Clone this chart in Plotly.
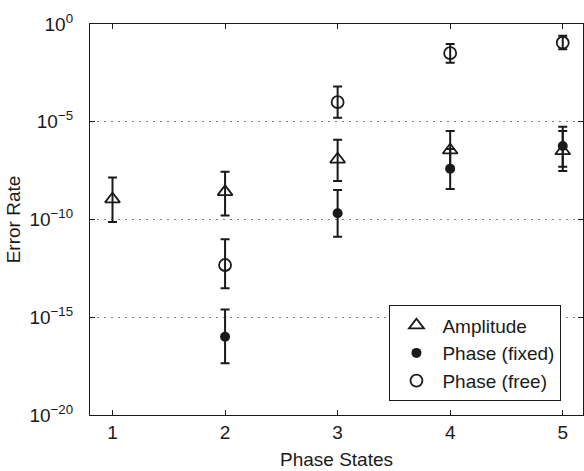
import plotly.graph_objects as go

# Data
phase_states = [1, 2, 3, 4, 5]

amp_x = [1, 2, 3, 4, 5]
amp_val = [1.1e-9, 2.6e-9, 1.2e-7, 3.5e-7, 3.2e-7]
amp_hi = [1.4e-8, 2.8e-8, 1.2e-6, 3.4e-6, 3.4e-6]
amp_lo = [7.4e-11, 1.6e-10, 9.3e-9, 3.5e-8, 3.0e-8]

fix_x = [2, 3, 4, 5]
fix_val = [1.0e-16, 2.1e-10, 4.0e-8, 5.8e-7]
fix_hi = [2.5e-15, 3.2e-9, 4.0e-7, 5.6e-6]
fix_lo = [4.4e-18, 1.3e-11, 3.6e-9, 5.0e-8]

free_x = [2, 3, 4, 5]
free_val = [4.7e-13, 1.0e-4, 3.2e-2, 1.1e-1]
free_hi = [9.8e-12, 6.3e-4, 9.5e-2, 2.5e-1]
free_lo = [3.0e-14, 1.6e-5, 1.05e-2, 5.1e-2]

ytick_vals = [1e0, 1e-5, 1e-10, 1e-15, 1e-20]
ytick_text = ["10<sup>0</sup>", "10<sup>−5</sup>", "10<sup>−10</sup>",
              "10<sup>−15</sup>", "10<sup>−20</sup>"]

INK = "#1a1a1a"
FONT = "Liberation Sans, Arial, Helvetica, sans-serif"


def err(val, hi, lo):
    plus = [h - v for v, h in zip(val, hi)]
    minus = [v - l for v, l in zip(val, lo)]
    return dict(type="data", symmetric=False, array=plus, arrayminus=minus,
                color=INK, thickness=2, width=4.5)


fig = go.Figure()
fig.add_trace(go.Scatter(
    x=amp_x, y=amp_val, mode="markers", name="Amplitude",
    marker=dict(symbol="triangle-up-open", size=13, color=INK,
                line=dict(width=1.8, color=INK)),
    error_y=err(amp_val, amp_hi, amp_lo)))
fig.add_trace(go.Scatter(
    x=fix_x, y=fix_val, mode="markers", name="Phase (fixed)",
    marker=dict(symbol="circle", size=10, color=INK,
                line=dict(width=0, color=INK)),
    error_y=err(fix_val, fix_hi, fix_lo)))
fig.add_trace(go.Scatter(
    x=free_x, y=free_val, mode="markers", name="Phase (free)",
    marker=dict(symbol="circle-open", size=12, color=INK,
                line=dict(width=1.8, color=INK)),
    error_y=err(free_val, free_hi, free_lo)))

fig.update_layout(
    width=584, height=471,
    margin=dict(l=90, r=1, t=24, b=56, autoexpand=False),
    paper_bgcolor="white", plot_bgcolor="white",
    font=dict(family=FONT, size=19, color=INK),
    showlegend=True,
    legend=dict(x=0.607, y=0.281, xanchor="left", yanchor="top",
                bgcolor="white", bordercolor=INK, borderwidth=1.2,
                font=dict(size=19), itemwidth=42, tracegroupgap=0),
    xaxis=dict(
        range=[0.8, 5.18], tickvals=phase_states, automargin=False,
        ticks="inside", ticklen=5, tickwidth=1, tickcolor=INK,
        showline=True, linecolor=INK, linewidth=1.2, mirror="ticks",
        showgrid=False, zeroline=False,
        title=dict(text="Phase States", standoff=10, font=dict(size=19)),
    ),
    yaxis=dict(
        type="log", range=[-20, 0], automargin=False,
        tickvals=ytick_vals, ticktext=ytick_text,
        ticks="inside", ticklen=5, tickwidth=1, tickcolor=INK,
        showline=True, linecolor=INK, linewidth=1.2, mirror="ticks",
        showgrid=True, gridcolor="#808080", griddash="1.5px,5.5px",
        gridwidth=1.2,
        zeroline=False, ticklabelstandoff=12,
        title=dict(text="Error Rate", standoff=3, font=dict(size=19)),
    ),
)

fig.write_html(
    "out.html",
    config={"displayModeBar": False},
    post_script="document.body.style.margin='0';document.body.style.overflow='hidden';",
)
